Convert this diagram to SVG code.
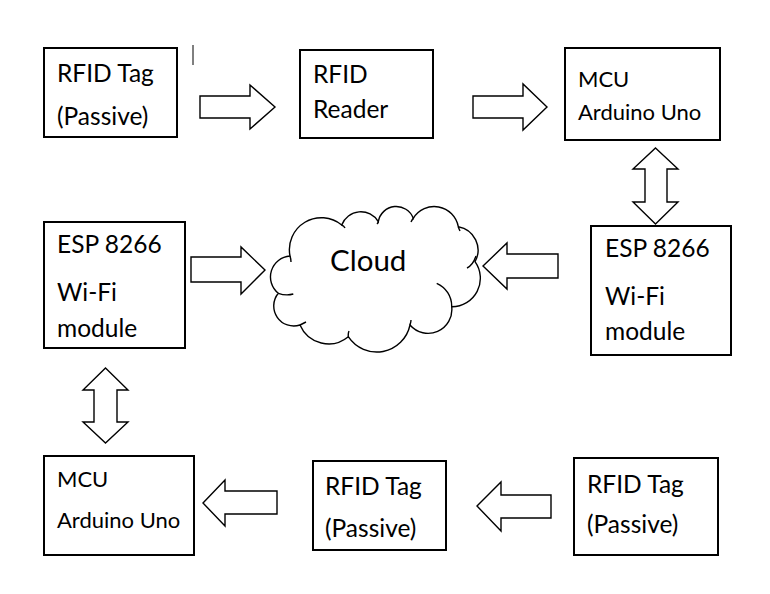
<svg xmlns="http://www.w3.org/2000/svg" width="770" height="594" viewBox="0 0 770 594">
<style>
.box{fill:#fff;stroke:#000;stroke-width:2}
.t{font-family:Lato,"Open Sans",sans-serif;font-size:24.5px;fill:#000}
.ts{font-family:Lato,"Open Sans",sans-serif;font-size:22px;fill:#000}
.tc{font-family:Lato,"Open Sans",sans-serif;font-size:29.5px;fill:#000}
.arr{fill:#fff;stroke:#000;stroke-width:1.4;stroke-linejoin:miter}
.cl{fill:#fff;stroke:#000;stroke-width:1.4}
.ci{fill:none;stroke:#000;stroke-width:1.4}
</style>
<rect width="770" height="594" fill="#fff"/>
<g id="connectors">
<polygon class="arr" points="200,96 250,96 250,85 275,107 250,129 250,118 200,118"/>
<polygon class="arr" points="473,96 523,96 523,84 547,107 523,130 523,118 473,118"/>
<polygon class="arr" points="655.5,148 678,169 667,169 667,202 678,202 655.5,224 633,202 645,202 645,169 633,169"/>
<polygon class="arr" points="483,266 507,243 507,254 558,254 558,278 507,278 507,289"/>
<polygon class="arr" points="191,257 241,257 241,247 265,270 241,294 241,282 191,282"/>
<polygon class="arr" points="105.5,368 128,390 117,390 117,422 128,422 105.5,443 83,422 94,422 94,390 83,390"/>
<polygon class="arr" points="203,503 225,480 225,491 277,491 277,514 225,514 225,526"/>
<polygon class="arr" points="477,506 501,482 501,495 551,495 551,518 501,518 501,531"/>
</g>
<line x1="193" y1="45" x2="193" y2="65" stroke="#000" stroke-width="1"/>
<g id="tag1">
<rect class="box" x="44" y="48" width="133" height="89"/>
<text class="t" x="57" y="82">RFID Tag</text>
<text class="t" x="57" y="125">(Passive)</text>
</g>
<g id="reader">
<rect class="box" x="300" y="50" width="133" height="88"/>
<text class="t" x="313" y="83">RFID</text>
<text class="t" x="313" y="118">Reader</text>
</g>
<g id="mcu1">
<rect class="box" x="565" y="48" width="155" height="92"/>
<text class="ts" x="578" y="87">MCU</text>
<text class="ts" x="578" y="120">Arduino Uno</text>
</g>
<g id="esp1">
<rect class="box" x="591" y="226" width="140" height="129"/>
<text class="t" x="605" y="257">ESP 8266</text>
<text class="t" x="605" y="305">Wi-Fi</text>
<text class="t" x="605" y="340">module</text>
</g>
<g id="cloud">
<path class="cl" d="M290,256 A32,32 0 0,1 341.7,225 A20.4,20.4 0 0,1 378.3,221.7 A18.2,18.2 0 0,1 413.3,218.3 A24.5,24.5 0 0,1 458.3,226.7 A23.8,23.8 0 0,1 475,261.7 A28.4,28.4 0 0,1 451.7,306.7 A23.8,23.8 0 0,1 410,325 A34,34 0 0,1 348.3,336.7 A31,31 0 0,1 300,325 A20,20 0 0,1 278.3,293.3 A21,21 0 0,1 290,256 Z"/>
<path class="ci" d="M436.7,283.3 A25,25 0 0,1 451.7,306.7 M467,268 Q473,265 476,256 M278.3,293.3 Q286,296 293.3,294 M290,256 Q291,259 291,262 M300,325 Q304,323 306,322 M348.3,336.7 Q348,333 349,331 M410,325 Q411,322 411,320 M458.3,226.7 Q459,229 460,231 M413.3,218.3 Q412,220 411,222 M378.3,221.7 Q378,223 377,224 M341.7,225 Q344,226 345,228"/>
<text class="tc" x="330" y="271">Cloud</text>
</g>
<g id="esp2">
<rect class="box" x="44" y="222" width="141" height="126"/>
<text class="t" x="57" y="253">ESP 8266</text>
<text class="t" x="57" y="301">Wi-Fi</text>
<text class="t" x="57" y="337">module</text>
</g>
<g id="mcu2">
<rect class="box" x="44" y="456" width="150" height="99"/>
<text class="ts" x="57" y="487">MCU</text>
<text class="ts" x="57" y="528">Arduino Uno</text>
</g>
<g id="tag2">
<rect class="box" x="313" y="461" width="133" height="89"/>
<text class="t" x="325" y="495">RFID Tag</text>
<text class="t" x="325" y="537">(Passive)</text>
</g>
<g id="tag3">
<rect class="box" x="574" y="458" width="144" height="97"/>
<text class="t" x="587" y="493">RFID Tag</text>
<text class="t" x="587" y="533">(Passive)</text>
</g>
</svg>
